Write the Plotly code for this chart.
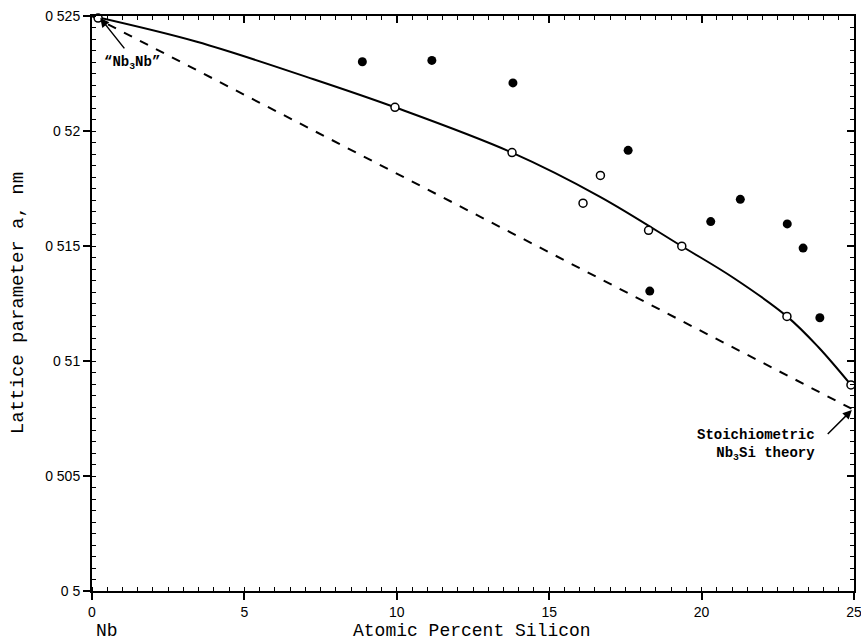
import plotly.graph_objects as go

# Filled circles (one series)
filled_x = [8.87, 11.15, 13.81, 17.59, 18.30, 20.30, 21.27, 22.81, 23.33, 23.88]
filled_y = [0.52301, 0.52307, 0.52209, 0.51916, 0.51304, 0.51606, 0.51703, 0.51596, 0.51491, 0.51188]

# Open circles (other series)
open_x = [0.2, 9.94, 13.78, 16.11, 16.68, 18.26, 19.35, 22.80, 24.9]
open_y = [0.52491, 0.52103, 0.51906, 0.51686, 0.51807, 0.51568, 0.51499, 0.51194, 0.50896]

# Solid fitted curve
curve_x = [0, 3.44, 7.27, 9.94, 13.78, 16.67, 19.35, 21.04, 22.8, 23.82, 24.9]
curve_y = [0.525, 0.52388, 0.52225, 0.52103, 0.51906, 0.51714, 0.51499, 0.51362, 0.51194, 0.51062, 0.50896]

# Dashed theory line
theory_x = [0, 25]
theory_y = [0.525, 0.50787]

xtick_vals = [0, 5, 10, 15, 20, 25]
xtick_text = ["0", "5", "10", "15", "20", "25"]
ytick_vals = [0.5, 0.505, 0.51, 0.515, 0.52, 0.525]
ytick_text = ["0 5", "0 505", "0 51", "0 515", "0 52", "0 525"]

fig = go.Figure()
fig.add_trace(go.Scatter(x=theory_x, y=theory_y, mode="lines",
                         line=dict(color="black", width=2, dash="dash"),
                         showlegend=False, hoverinfo="skip"))
fig.add_trace(go.Scatter(x=curve_x, y=curve_y, mode="lines",
                         line=dict(color="black", width=2, shape="spline", smoothing=1.0),
                         showlegend=False, hoverinfo="skip"))
fig.add_trace(go.Scatter(x=filled_x, y=filled_y, mode="markers",
                         marker=dict(symbol="circle", size=9, color="black"),
                         showlegend=False))
fig.add_trace(go.Scatter(x=open_x, y=open_y, mode="markers",
                         marker=dict(symbol="circle", size=8, color="white",
                                     line=dict(color="black", width=1.5)),
                         showlegend=False, cliponaxis=False))
# invisible trace for mirrored axes
fig.add_trace(go.Scatter(x=[0], y=[0.5], xaxis="x2", yaxis="y2", mode="markers",
                         marker=dict(opacity=0), showlegend=False, hoverinfo="skip"))

axis_font = dict(family="Liberation Sans, Arial, sans-serif", size=14, color="black")

fig.update_layout(
    width=861, height=641,
    margin=dict(l=92, r=7, t=16, b=50, autoexpand=False),
    plot_bgcolor="white", paper_bgcolor="white",
    xaxis=dict(range=[0, 25], tickvals=xtick_vals, ticktext=xtick_text,
               ticks="outside", ticklen=7, tickwidth=1.5, tickcolor="black",
               showline=True, linecolor="black", linewidth=2, showgrid=False,
               zeroline=False, tickfont=axis_font, ticklabeloverflow="allow", automargin=False,
               minor=dict(dtick=0.5, ticks="inside", ticklen=4, tickwidth=1, tickcolor="black", showgrid=False)),
    yaxis=dict(range=[0.5, 0.525], tickvals=ytick_vals, ticktext=ytick_text,
               ticks="outside", ticklen=7, tickwidth=1.5, tickcolor="black",
               showline=True, linecolor="black", linewidth=2, showgrid=False,
               zeroline=False, tickfont=axis_font, ticklabeloverflow="allow", automargin=False,
               minor=dict(dtick=0.0005, tick0=0.5, ticks="inside", ticklen=4, tickwidth=1, tickcolor="black", showgrid=False)),
    xaxis2=dict(range=[0, 25], overlaying="x", side="top", anchor="y",
                tickvals=xtick_vals, ticks="inside", ticklen=7, tickwidth=1.5, tickcolor="black",
                showticklabels=False, showline=True, linecolor="black", linewidth=2,
                showgrid=False, zeroline=False, automargin=False,
                minor=dict(dtick=0.5, ticks="inside", ticklen=4, tickwidth=1, tickcolor="black", showgrid=False)),
    yaxis2=dict(range=[0.5, 0.525], overlaying="y", side="right", anchor="x",
                tickvals=ytick_vals, ticks="inside", ticklen=7, tickwidth=1.5, tickcolor="black",
                showticklabels=False, showline=True, linecolor="black", linewidth=2,
                showgrid=False, zeroline=False, automargin=False,
                minor=dict(dtick=0.0005, tick0=0.5, ticks="inside", ticklen=4, tickwidth=1, tickcolor="black", showgrid=False)),
)

label_font = dict(family="Liberation Mono, Courier New, monospace", size=19, color="black")
bottom_font = dict(family="Liberation Mono, Courier New, monospace", size=18, color="black")
note_font = dict(family="Liberation Mono, Courier New, monospace", size=14, color="black")

fig.add_annotation(text="Lattice parameter a, nm", xref="paper", yref="y",
                   x=-0.097, y=0.51252, textangle=-90, showarrow=False,
                   font=label_font, xanchor="center", yanchor="middle")
fig.add_annotation(text="Atomic Percent Silicon", xref="x", yref="paper",
                   x=12.47, y=-0.0696, showarrow=False, font=bottom_font,
                   xanchor="center", yanchor="middle")
fig.add_annotation(text="Nb", xref="x", yref="paper",
                   x=0.05, y=-0.0696, showarrow=False, font=bottom_font,
                   xanchor="left", yanchor="middle")

# "Nb3Nb" arrow and text
fig.add_annotation(x=0.27, y=0.52491, ax=1.16, ay=0.52343, xref="x", yref="y",
                   axref="x", ayref="y", text=" ", showarrow=True,
                   arrowhead=2, arrowsize=1.2, arrowwidth=1.5, arrowcolor="black")
fig.add_annotation(text="<b>“Nb<sub>3</sub>Nb”</b>", x=1.32, y=0.52296, xref="x", yref="y",
                   showarrow=False, font=note_font, xanchor="center", yanchor="middle")

# Stoichiometric arrow and text
fig.add_annotation(x=24.93, y=0.50787, ax=24.04, ay=0.50670, xref="x", yref="y",
                   axref="x", ayref="y", text=" ", showarrow=True,
                   arrowhead=2, arrowsize=1.2, arrowwidth=1.5, arrowcolor="black")
fig.add_annotation(text="<b>Stoichiometric<br>Nb<sub>3</sub>Si theory</b>", x=23.78, y=0.50635,
                   xref="x", yref="y", showarrow=False, font=note_font,
                   xanchor="right", yanchor="middle", align="right")

fig.write_html("out.html", config={"displayModeBar": False},
               post_script="document.body.style.margin='0';document.body.style.overflow='hidden';")
